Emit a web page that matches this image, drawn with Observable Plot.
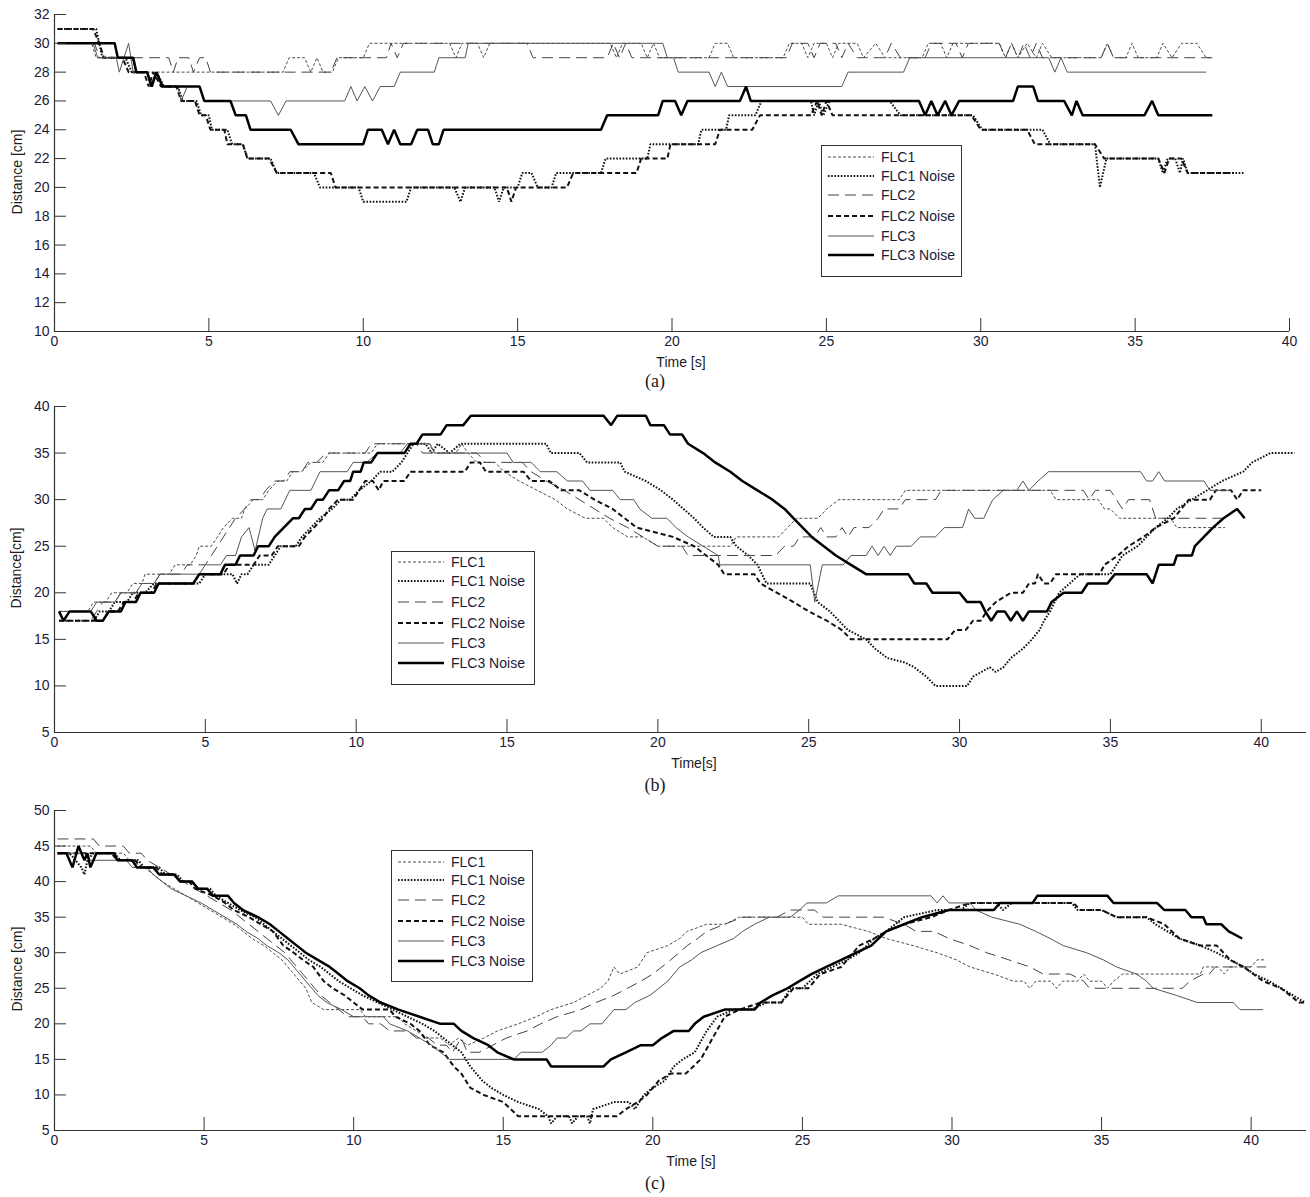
<!DOCTYPE html>
<html><head><meta charset="utf-8">
<script src="https://cdn.jsdelivr.net/npm/d3@7"></script>
<script src="https://cdn.jsdelivr.net/npm/@observablehq/plot@0.6"></script>
<style>
body{margin:0;background:#fff}
#fig{position:relative;width:1310px;height:1197px;font-family:Arial,"Liberation Sans",sans-serif;color:#1a1a1a;overflow:hidden}
#fig svg.plot{position:absolute;left:0}
.lab{position:absolute;font-size:14px;white-space:nowrap;transform:translate(-50%,-50%)}
.ylab{position:absolute;font-size:14px;white-space:nowrap;transform:translate(-50%,-50%) rotate(-90deg)}
.cap{position:absolute;font-family:"Liberation Serif","Times New Roman",serif;font-size:18px;transform:translate(-50%,-50%)}
.legend{position:absolute}
</style></head>
<body><div id="fig"></div>
<script>
// ---------- tick labels ----------
const xTicks = [0,5,10,15,20,25,30,35,40];
const yTicksA = [10,12,14,16,18,20,22,24,26,28,30,32];
const yTicksB = [5,10,15,20,25,30,35,40];
const yTicksC = [5,10,15,20,25,30,35,40,45,50];
const seriesNames = ["FLC1","FLC1 Noise","FLC2","FLC2 Noise","FLC3","FLC3 Noise"];

// ---------- panel (a): [time s, distance cm] ----------
const a_FLC1 = [[0.1,30],[1.2,30],[1.35,29],[2.5,29],[2.65,28],[7.4,28],[7.6,29],[8.1,29],[8.3,28],[8.5,29],[8.7,28],[9.0,28],[9.2,29],[10.0,29],[10.2,30],[12.8,30],[13.0,29],[13.2,30],[13.7,30],[13.9,29],[14.1,30],[18.0,30],[18.2,29],[18.4,30],[19.0,30],[19.2,29],[19.4,30],[19.6,29],[21.2,29],[21.4,30],[21.8,30],[22.0,29],[23.6,29],[23.8,30],[24.2,30],[24.4,29],[24.6,30],[25.0,30],[25.2,29],[25.4,30],[26.0,30],[26.2,29],[26.6,30],[26.9,29],[28.1,29],[28.3,30],[28.7,30],[28.9,29],[29.1,30],[30.6,30],[30.8,29],[31.0,30],[31.2,29],[31.5,30],[31.8,29],[32.0,30],[32.3,29],[33.9,29],[34.1,30],[34.3,29],[34.7,29],[34.9,30],[35.1,29],[35.7,29],[35.9,30],[36.2,29],[36.5,30],[37.0,30],[37.3,29],[37.5,29]];
const a_FLC1N = [[0.1,31],[1.35,31],[1.55,29],[2.3,29],[2.5,28],[3.0,28],[3.15,27],[3.3,28],[3.55,27],[4.0,27],[4.15,26],[4.6,26],[4.75,25],[5.0,25],[5.1,24],[5.6,24],[5.75,23],[6.1,23],[6.25,22],[7.0,22],[7.2,21],[8.4,21],[8.6,20],[9.85,20],[10.0,19],[11.4,19],[11.55,20],[12.95,20],[13.15,19],[13.3,20],[14.25,20],[14.4,19],[14.55,20],[15.0,20],[15.15,21],[15.45,21],[15.65,20],[16.1,20],[16.25,21],[17.7,21],[17.85,22],[19.2,22],[19.3,23],[20.85,23],[20.95,24],[21.75,24],[21.85,25],[22.7,25],[22.9,26],[24.5,26],[24.6,25],[24.75,26],[24.9,25],[25.1,26],[27.05,26],[27.4,25],[29.75,25],[30.05,24],[32.0,24],[32.25,23],[33.7,23],[33.86,20],[34.07,22],[35.75,22],[35.9,21],[36.05,22],[36.3,22],[36.45,21],[36.55,22],[36.7,21],[38.55,21]];
const a_FLC2 = [[0.1,30],[1.3,30],[1.45,29],[3.7,29],[3.85,28],[4.0,29],[4.35,29],[4.5,28],[4.7,29],[4.9,29],[5.05,28],[8.95,28],[9.15,29],[10.75,29],[10.9,30],[11.1,29],[11.3,30],[15.3,30],[15.5,29],[17.9,29],[18.1,30],[18.3,29],[18.5,30],[18.7,29],[23.7,29],[23.9,30],[24.4,30],[24.6,29],[24.8,30],[25.3,30],[25.5,29],[25.7,30],[26.0,29],[26.9,29],[27.1,30],[27.4,29],[28.2,29],[28.4,30],[29.2,30],[29.4,29],[29.6,30],[30.6,30],[30.8,29],[31.0,30],[31.2,29],[31.4,30],[31.6,29],[31.8,30],[32.0,29],[33.9,29],[34.1,30],[34.3,29],[37.6,29]];
const a_FLC2N = [[0.1,31],[1.25,31],[1.45,30],[1.6,29],[2.2,29],[2.4,28],[2.9,28],[3.05,27],[3.2,28],[3.45,27],[3.95,27],[4.1,26],[4.55,26],[4.7,25],[4.9,25],[5.05,24],[5.5,24],[5.6,23],[6.1,23],[6.25,22],[6.95,22],[7.2,21],[8.95,21],[9.1,20],[14.65,20],[14.8,19],[14.95,20],[16.6,20],[16.8,21],[18.85,21],[19.0,22],[19.85,22],[19.95,23],[21.4,23],[21.55,24],[22.6,24],[22.85,25],[24.5,25],[24.7,26],[24.85,25],[25.0,26],[25.2,25],[29.7,25],[30.0,24],[31.5,24],[31.75,23],[33.7,23],[34.0,22],[35.75,22],[35.95,21],[36.1,22],[36.5,22],[36.7,21],[38.2,21]];
const a_FLC3 = [[0.1,30],[1.25,30],[1.4,29],[2.0,29],[2.1,28],[2.25,29],[2.4,30],[2.55,28],[3.0,28],[3.1,27],[3.3,28],[3.5,27],[4.0,27],[4.1,26],[4.3,27],[4.7,27],[4.85,26],[7.0,26],[7.25,25],[7.5,26],[9.4,26],[9.6,27],[9.8,26],[10.05,27],[10.3,26],[10.55,27],[11.0,27],[11.2,28],[12.3,28],[12.45,29],[13.3,29],[13.4,30],[19.7,30],[19.85,29],[20.05,29],[20.2,28],[21.2,28],[21.4,27],[21.6,28],[21.8,27],[25.5,27],[25.7,28],[27.5,28],[27.7,29],[32.2,29],[32.4,28],[32.6,29],[32.8,28],[37.3,28]];
const a_FLC3N = [[0.1,30],[1.95,30],[2.05,29],[2.55,29],[2.65,28],[3.0,28],[3.15,27],[3.3,28],[3.5,27],[4.7,27],[4.85,26],[5.7,26],[5.87,25],[6.2,25],[6.35,24],[7.65,24],[7.9,23],[10.0,23],[10.15,24],[10.6,24],[10.8,23],[11.0,24],[11.2,23],[11.55,23],[11.75,24],[12.1,24],[12.25,23],[12.45,23],[12.6,24],[17.7,24],[17.9,25],[19.55,25],[19.7,26],[20.1,26],[20.3,25],[20.5,26],[22.2,26],[22.4,27],[22.55,26],[28.0,26],[28.2,25],[28.4,26],[28.6,25],[28.85,26],[29.05,25],[29.3,26],[31.05,26],[31.2,27],[31.7,27],[31.85,26],[32.7,26],[32.95,25],[33.1,26],[33.3,25],[35.3,25],[35.55,26],[35.75,25],[37.5,25]];

// ---------- panel (b) ----------
const b_FLC1 = [[0.15,18],[1.1,18],[1.3,19],[1.7,19],[1.9,20],[2.4,20],[2.6,21],[2.9,21],[3.0,22],[3.8,22],[4.0,23],[4.5,23],[4.7,24],[4.8,25],[5.2,25],[5.4,26],[5.6,27],[5.9,28],[6.2,28],[6.3,29],[6.6,30],[6.9,30],[7.1,31],[7.4,32],[7.7,32],[7.9,33],[8.2,33],[8.5,34],[8.9,34],[9.1,35],[10.5,35],[10.7,36],[12.4,36],[12.6,35],[13.3,35],[13.5,36],[13.7,35],[14.0,34],[14.6,34],[14.9,33],[15.4,32],[16.0,31],[16.6,30],[17.0,29],[17.6,28],[18.2,28],[18.5,27],[19.0,26],[19.5,26],[20.0,25],[22.4,25],[22.6,26],[24.0,26],[24.3,27],[24.6,28],[25.3,28],[25.6,29],[26.0,30],[28.0,30],[28.2,31],[33.0,31],[33.2,30],[34.6,30],[34.8,29],[35.0,29],[35.3,28],[37.0,28],[37.2,27],[38.8,27]];
const b_FLC1N = [[0.15,17],[1.3,17],[1.5,18],[1.8,18],[2.0,19],[2.4,19],[2.6,20],[3.0,20],[3.3,21],[4.8,21],[5.0,22],[5.9,22],[6.05,21],[6.2,22],[6.4,22],[6.6,23],[7.1,23],[7.3,24],[7.5,25],[8.0,25],[8.2,26],[8.5,27],[8.8,28],[9.2,29],[9.5,30],[9.8,30],[10.1,31],[10.5,32],[10.8,33],[11.2,33],[11.5,34],[11.7,35],[11.9,36],[12.3,36],[12.5,35],[12.7,36],[13.1,35],[13.45,36],[16.3,36],[16.45,35],[17.4,35],[17.65,34],[18.75,34],[18.9,33],[19.6,32],[20.1,31],[20.5,30],[20.85,29],[21.2,28],[21.5,27],[21.85,26],[22.4,26],[22.6,25],[23.0,24],[23.3,23],[23.6,21],[25.05,21],[25.3,19],[25.7,18],[26.0,17],[26.3,16],[26.9,15],[27.2,14],[27.6,13],[28.2,12.5],[28.5,12],[28.9,11],[29.2,10],[30.25,10],[30.45,11],[31.0,12],[31.2,11.5],[31.45,12],[31.7,13],[32.1,14],[32.4,15],[32.65,16],[32.8,17],[33.0,18],[33.15,19],[33.3,20],[33.65,21],[34.0,22],[35.0,22],[35.2,23],[35.4,24],[35.9,25],[36.2,26],[36.5,27],[36.9,28],[37.2,29],[37.7,30],[38.2,31],[38.7,32],[39.4,33],[39.7,34],[40.3,35],[41.1,35]];
const b_FLC2 = [[0.15,17],[1.2,17],[1.4,18],[1.6,19],[2.0,19],[2.2,20],[2.7,20],[2.9,21],[3.3,21],[3.5,22],[4.2,22],[4.4,23],[5.0,23],[5.2,24],[5.4,25],[5.6,26],[5.8,27],[6.0,28],[6.3,29],[6.5,30],[6.8,30],[7.0,31],[7.3,32],[7.6,32],[7.8,33],[8.2,33],[8.4,34],[8.7,34],[9.0,35],[10.3,35],[10.5,36],[12.0,36],[12.2,35],[14.0,35],[14.3,34],[15.5,34],[15.8,33],[16.3,32],[16.9,31],[17.4,30],[17.9,29],[18.4,28],[19.0,27],[19.5,26],[20.0,25],[20.8,25],[21.0,24],[23.9,24],[24.2,25],[24.5,25],[24.7,26],[25.2,26],[25.4,27],[25.6,26],[25.9,26],[26.1,27],[26.3,26],[26.5,27],[27.0,27],[27.3,28],[27.5,29],[28.0,29],[28.2,30],[29.2,30],[29.4,31],[34.1,31],[34.3,30],[34.5,31],[35.0,31],[35.2,30],[35.4,29],[35.6,30],[36.3,30],[36.5,28],[38.8,28]];
const b_FLC2N = [[0.15,17],[1.6,17],[1.8,18],[2.1,18],[2.3,19],[2.6,19],[2.8,20],[3.2,20],[3.4,21],[4.6,21],[4.8,22],[5.6,22],[5.8,23],[6.6,23],[6.8,24],[7.2,24],[7.4,25],[8.1,25],[8.3,26],[8.6,27],[8.9,28],[9.1,29],[9.4,30],[9.9,30],[10.1,31],[10.3,32],[10.55,32],[10.75,31],[10.9,32],[11.6,32],[11.8,33],[13.6,33],[13.8,34],[14.1,34],[14.3,33],[15.55,33],[15.8,32],[16.4,32],[16.8,31],[17.4,31],[17.9,30],[18.5,29],[18.9,28],[19.3,27],[20.5,26],[21.2,25],[21.6,24],[22.0,23],[22.2,22],[23.2,22],[23.4,21],[23.95,20],[24.5,19],[25.0,18],[25.6,17],[26.1,16],[26.4,15],[29.6,15],[29.85,16],[30.2,16],[30.45,17],[30.7,17],[30.9,18],[31.2,19],[31.7,20],[32.1,20],[32.3,21],[32.5,21],[32.6,22],[32.8,21],[33.0,21],[33.2,22],[34.65,22],[34.8,23],[35.25,24],[35.6,25],[36.1,26],[36.5,27],[37.1,28],[37.35,29],[37.6,30],[38.3,30],[38.5,31],[39.0,31],[39.2,30],[39.4,31],[40.0,31]];
const b_FLC3 = [[0.15,18],[1.2,18],[1.4,19],[2.0,19],[2.2,20],[2.7,20],[2.9,21],[3.3,21],[3.5,22],[4.8,22],[5.0,23],[5.5,23],[5.7,24],[6.0,24],[6.2,26],[6.45,27],[6.65,24.5],[6.9,28],[7.05,29],[7.5,29],[7.8,31],[8.5,31],[8.8,33],[9.7,33],[9.9,34],[10.35,34],[10.7,35],[11.45,35],[11.7,36],[12.45,36],[12.6,35],[15.0,35],[15.2,34],[15.8,34],[16.1,33],[16.65,33],[17.0,32],[17.5,32],[17.75,31],[18.5,31],[18.75,30],[19.2,30],[19.4,29],[19.8,28],[20.3,28],[20.6,27],[21.0,26],[21.5,25],[22.0,24],[22.05,23],[25.05,23],[25.2,19],[25.45,23],[26.15,23],[26.4,24],[26.9,24],[27.1,25],[27.3,24],[27.5,25],[27.7,24],[27.9,25],[28.4,25],[28.7,26],[29.2,26],[29.5,27],[30.1,27],[30.3,29],[30.5,28],[30.8,28],[31.1,30],[31.45,31],[31.9,31],[32.1,32],[32.3,31],[32.6,32],[32.95,33],[36.0,33],[36.2,32],[36.4,32],[36.6,33],[36.8,32],[38.1,32],[38.3,31],[39.0,31]];
const b_FLC3N = [[0.15,18],[0.3,17],[0.5,18],[1.2,18],[1.4,17],[1.6,17],[1.8,18],[2.2,18],[2.35,19],[2.7,19],[2.85,20],[3.3,20],[3.45,21],[4.6,21],[4.8,22],[5.5,22],[5.65,23],[6.0,23],[6.15,24],[6.6,24],[6.75,25],[7.1,25],[7.3,26],[7.6,27],[7.9,28],[8.1,28],[8.3,29],[8.5,29],[8.7,30],[8.9,30],[9.1,31],[9.4,31],[9.6,32],[9.8,32],[9.9,33],[10.15,33],[10.25,34],[10.5,34],[10.7,35],[11.6,35],[11.8,36],[12.0,36],[12.2,37],[12.8,37],[13.0,38],[13.55,38],[13.8,39],[18.2,39],[18.45,38],[18.65,39],[19.6,39],[19.75,38],[20.2,38],[20.4,37],[20.8,37],[21.0,36],[21.5,35],[21.9,34],[22.4,33],[22.8,32],[23.3,31],[23.8,30],[24.2,29],[24.5,28],[24.8,27],[25.1,26],[25.5,25],[25.9,24],[26.4,23],[26.9,22],[28.3,22],[28.5,21],[28.9,21],[29.1,20],[30.0,20],[30.25,19],[30.7,19],[30.85,18],[31.05,17],[31.25,18],[31.5,18],[31.7,17],[31.9,18],[32.1,17],[32.3,18],[32.9,18],[33.05,19],[33.45,20],[34.05,20],[34.25,21],[34.9,21],[35.15,22],[36.2,22],[36.4,21],[36.6,23],[37.1,23],[37.2,24],[37.7,24],[37.8,25],[38.1,26],[38.4,27],[38.75,28],[39.2,29],[39.45,28]];

// ---------- panel (c) ----------
const c_FLC1 = [[0.1,45],[1.2,45],[1.4,44],[2.3,44],[2.5,43],[3.0,42],[3.3,41],[3.6,40],[4.0,39],[4.4,38],[4.8,37],[5.2,36],[5.6,35],[6.0,34],[6.3,33],[6.6,32],[7.0,31],[7.3,30],[7.6,29],[7.8,28],[8.0,27],[8.2,26],[8.4,25],[8.5,24],[8.6,23],[9.0,22],[10.2,22],[10.4,21],[11.5,21],[11.7,20],[12.1,19],[12.5,18],[12.9,18],[13.2,17],[13.5,18],[13.8,17],[14.35,18],[14.8,19],[15.5,20],[16.1,21],[16.6,22],[17.35,23],[17.8,24],[18.25,25],[18.5,26],[18.7,28],[18.9,27],[19.5,28],[19.8,30],[20.5,31],[20.9,32],[21.15,33],[21.8,34],[22.4,34],[22.9,35],[25.0,35],[25.2,34],[26.3,34],[27.2,33],[27.8,32],[28.7,31],[29.5,30],[30.15,29],[30.6,28],[31.4,27],[32.05,26],[32.4,26],[32.6,25],[32.8,26],[33.3,26],[33.5,25],[33.7,26],[34.2,26],[34.4,27],[34.6,26],[35.0,26],[35.2,25],[35.4,26],[35.7,27],[38.3,27],[38.4,28],[38.9,28],[39.1,27],[39.3,28],[40.0,28],[40.2,29],[40.5,29]];
const c_FLC1N = [[0.1,44],[0.5,44],[0.7,43],[0.9,42],[1.0,41],[1.1,43],[1.3,44],[2.0,44],[2.2,43],[2.8,43],[3.0,42],[3.5,42],[3.7,41],[4.1,41],[4.3,40],[4.6,40],[4.8,39],[5.2,39],[5.4,38],[5.8,37],[6.2,36],[6.7,35],[7.0,34],[7.3,33],[7.6,32],[7.9,31],[8.2,30],[8.5,29],[8.9,28],[9.2,27],[9.5,26],[9.9,25],[10.3,24],[10.8,23],[11.3,22],[11.8,21],[12.3,20],[12.7,19],[13.0,18],[13.3,17],[13.6,16],[13.9,14],[14.3,12],[14.6,11],[15.0,10],[15.5,9],[16.2,8],[16.5,7],[16.6,6],[16.8,7],[17.2,7],[17.3,6],[17.5,7],[17.8,7],[17.9,6],[18.0,8],[18.7,9],[19.2,9],[19.4,8],[19.7,10],[20.0,11],[20.4,12],[20.7,14],[21.0,15],[21.4,16],[21.8,19],[22.15,21],[22.7,22],[23.3,22],[23.8,23],[24.3,23],[24.6,25],[25.0,25],[25.5,27],[26.0,28],[26.5,29],[26.9,30],[27.4,32],[27.8,33],[28.4,35],[29.5,36],[30.3,36],[30.6,37],[31.5,37],[31.7,36],[32.0,37],[34.0,37],[34.2,36],[35.0,36],[35.5,35],[36.5,35],[36.8,34],[37.6,32],[38.3,31],[38.85,30],[39.3,29],[39.75,28],[40.1,27],[40.6,26],[41.0,25],[41.4,24],[41.8,23]];
const c_FLC2 = [[0.1,46],[1.3,46],[1.5,45],[2.3,45],[2.5,44],[2.9,44],[3.1,43],[3.5,42],[3.9,41],[4.3,40],[4.7,39],[5.1,38],[5.5,37],[5.9,36],[6.2,35],[6.5,34],[6.8,33],[7.1,32],[7.4,31],[7.7,30],[7.9,29],[8.1,28],[8.3,27],[8.5,26],[8.7,25],[8.9,24],[9.2,23],[9.5,22],[9.8,21],[10.3,21],[10.5,20],[10.9,20],[11.2,19],[11.8,19],[12.1,18],[12.5,18],[12.8,17],[13.1,17],[13.3,16],[13.6,18],[13.8,16],[14.2,16],[15.1,18],[15.8,19],[16.25,20],[16.8,21],[17.6,22],[18.1,23],[18.7,24],[19.15,25],[19.6,26],[20.0,27],[20.6,29],[21.15,31],[21.5,32],[21.8,33],[22.4,34],[23.0,35],[24.15,35],[24.6,36],[25.4,36],[25.7,35],[27.7,35],[28.4,34],[28.8,33],[29.4,33],[29.9,32],[30.6,31],[31.16,30],[31.9,29],[32.6,28],[33.05,27],[33.95,27],[34.4,26],[34.6,25],[37.7,25],[37.95,26],[38.4,27],[38.6,27],[38.8,28],[40.5,28]];
const c_FLC2N = [[0.1,44],[1.9,44],[2.1,43],[2.7,43],[2.9,42],[3.4,42],[3.6,41],[4.0,41],[4.2,40],[4.5,40],[4.7,39],[5.3,38],[5.7,37],[6.0,36],[6.5,35],[6.9,34],[7.3,33],[7.65,31],[8.0,30],[8.3,29],[8.65,28],[9.0,26],[9.3,25],[9.7,24],[10.0,23],[10.3,22],[11.2,22],[11.4,21],[11.9,20],[12.2,19],[12.55,17],[13.0,16],[13.35,14],[13.6,13],[13.9,11],[14.35,10],[15.0,9],[15.5,7],[18.8,7],[19.1,8],[19.5,9],[19.8,10],[20.2,12],[20.6,13],[21.1,13],[21.6,15],[22.0,18],[22.4,21],[22.9,22],[23.6,23],[24.3,23],[24.7,25],[25.2,25],[25.6,27],[26.3,28],[26.9,31],[27.4,32],[27.8,33],[28.4,34],[29.3,35],[29.9,36],[30.6,37],[34.05,37],[34.3,36],[35.0,36],[35.5,35],[36.5,35],[37.1,34],[37.6,32],[38.3,31],[38.85,31],[39.3,29],[39.75,28],[40.4,26],[41.0,25],[41.6,23],[41.8,23]];
const c_FLC3 = [[0.1,44],[1.0,44],[1.2,43],[2.4,43],[2.6,42],[3.1,42],[3.3,41],[3.6,40],[3.9,39],[4.4,38],[4.9,37],[5.3,36],[5.7,35],[6.1,34],[6.4,33],[6.8,32],[7.1,31],[7.5,30],[7.8,29],[8.0,28],[8.2,27],[8.4,26],[8.6,25],[8.8,24],[9.1,23],[9.6,22],[10.0,21],[11.0,21],[11.2,20],[11.8,19],[12.2,18],[12.6,17],[12.9,16],[13.2,15],[15.35,15],[15.6,16],[16.3,16],[16.6,17],[16.8,18],[17.1,18],[17.35,19],[17.6,19],[17.9,20],[18.3,20],[18.5,21],[18.7,22],[19.1,22],[19.4,23],[19.9,24],[20.2,25],[20.5,26],[20.7,27],[20.9,28],[21.3,29],[21.6,30],[22.15,31],[22.7,32],[23.0,33],[23.4,34],[23.9,35],[24.6,35],[24.9,36],[25.15,37],[25.8,37],[26.2,38],[29.3,38],[29.5,37],[29.7,38],[29.9,37],[30.6,37],[30.8,36],[31.33,35],[32.27,34],[32.8,33],[33.28,32],[33.72,31],[34.5,30],[35.06,29],[35.5,28],[36.17,27],[36.5,26],[36.73,25],[37.5,24],[38.2,23],[39.4,23],[39.63,22],[40.4,22]];
const c_FLC3N = [[0.1,44],[0.4,44],[0.6,42],[0.8,45],[1.0,43],[1.1,44],[1.2,42],[1.4,44],[2.0,44],[2.1,43],[2.6,43],[2.75,42],[3.3,42],[3.5,41],[4.0,41],[4.2,40],[4.6,40],[4.8,39],[5.1,39],[5.3,38],[5.8,38],[6.0,37],[6.3,36],[6.8,35],[7.2,34],[7.5,33],[7.8,32],[8.1,31],[8.4,30],[8.8,29],[9.2,28],[9.5,27],[9.8,26],[10.2,25],[10.5,24],[10.9,23],[11.5,22],[12.2,21],[12.9,20],[13.35,20],[13.6,19],[14.0,18],[14.5,17],[14.8,16],[15.35,15],[16.45,15],[16.6,14],[18.35,14],[18.6,15],[19.1,16],[19.6,17],[20.0,17],[20.3,18],[20.7,19],[21.2,19],[21.4,20],[21.7,21],[22.4,22],[23.4,22],[23.6,23],[24.0,24],[24.5,25],[24.9,26],[25.3,27],[25.8,28],[26.3,29],[26.8,30],[27.3,31],[27.8,33],[28.4,34],[29.0,35],[29.9,36],[31.4,36],[31.6,37],[32.7,37],[32.85,38],[35.2,38],[35.4,37],[36.85,37],[37.1,36],[37.8,36],[38.0,35],[38.4,35],[38.5,34],[39.0,34],[39.25,33],[39.7,32]];

// ---------- styles ----------
const lineStyle = {
  "FLC1":       {stroke:"#4d4d4d", strokeWidth:1,   dash:"3,2"},
  "FLC1 Noise": {stroke:"#111",    strokeWidth:2,   dash:"1.6,1.6"},
  "FLC2":       {stroke:"#444",    strokeWidth:1,   dash:"11,6"},
  "FLC2 Noise": {stroke:"#111",    strokeWidth:2,   dash:"5,3"},
  "FLC3":       {stroke:"#555",    strokeWidth:1,   dash:null},
  "FLC3 Noise": {stroke:"#000",    strokeWidth:2.5, dash:null}
};

const panels = [
  {series:[a_FLC1,a_FLC1N,a_FLC2,a_FLC2N,a_FLC3,a_FLC3N], yTicks:yTicksA, xMax:40, top:0, innerH:317, marginRight:21,
   xLabel:"Time [s]", xLab:[681,362], yLabel:"Distance [cm]", yLab:[17,172], cap:"(a)", capPos:[655,381],
   legend:{left:821, top:145, w:140, h:131, rows:[12,31,50,71,91,110]}},
  {series:[b_FLC1,b_FLC1N,b_FLC2,b_FLC2N,b_FLC3,b_FLC3N], yTicks:yTicksB, xMax:41.5, top:392, innerH:326, marginRight:4,
   xLabel:"Time[s]", xLab:[694,763], yLabel:"Distance[cm]", yLab:[16,568], cap:"(b)", capPos:[655,785],
   legend:{left:391, top:551, w:143, h:133, rows:[11,30,51,72,92,112]}},
  {series:[c_FLC1,c_FLC1N,c_FLC2,c_FLC2N,c_FLC3,c_FLC3N], yTicks:yTicksC, xMax:41.85, top:796, innerH:320, marginRight:4,
   xLabel:"Time [s]", xLab:[691,1161], yLabel:"Distance [cm]", yLab:[17,969], cap:"(c)", capPos:[655,1183],
   legend:{left:391, top:850, w:141, h:131, rows:[12,30,50,71,91,111]}}
];

const fig = document.getElementById("fig");
const mt = 14, mb = 44;

for (const p of panels) {
  const yMin = p.yTicks[0], yMax = p.yTicks[p.yTicks.length - 1];
  const marks = p.series.map((pts, i) => {
    const s = lineStyle[seriesNames[i]];
    return Plot.line(pts, {x: d => d[0], y: d => d[1], stroke: s.stroke, strokeWidth: s.strokeWidth,
      strokeDasharray: s.dash || undefined, strokeLinejoin: "miter", strokeLinecap: "butt"});
  });
  const chart = Plot.plot({
    width: 1310, height: mt + p.innerH + mb,
    marginLeft: 54, marginRight: p.marginRight, marginTop: mt, marginBottom: mb,
    style: {fontFamily: "Arial, 'Liberation Sans', sans-serif", fontSize: "14px", color: "#1a1a1a", background: "transparent", overflow: "visible"},
    x: {domain: [0, p.xMax], label: null},
    y: {domain: [yMin, yMax], label: null},
    marks: [
      ...marks,
      Plot.ruleY([yMin], {stroke: "#333", strokeWidth: 1.2}),
      Plot.ruleX([0], {stroke: "#333", strokeWidth: 1.2}),
      Plot.axisX(xTicks, {tickSize: -13, tickPadding: 18, stroke: "#333", fontSize: 14, fill: "#1a1a3a"}),
      Plot.axisY(p.yTicks, {tickSize: -12, tickPadding: 17, stroke: "#333", fontSize: 14, fill: "#1a1a3a"})
    ]
  });
  chart.classList.add("plot");
  chart.style.top = p.top + "px";
  fig.appendChild(chart);

  const xl = document.createElement("div"); xl.className = "lab"; xl.textContent = p.xLabel;
  xl.style.left = p.xLab[0] + "px"; xl.style.top = p.xLab[1] + "px"; fig.appendChild(xl);
  const yl = document.createElement("div"); yl.className = "ylab"; yl.textContent = p.yLabel;
  yl.style.left = p.yLab[0] + "px"; yl.style.top = p.yLab[1] + "px"; fig.appendChild(yl);
  const cp = document.createElement("div"); cp.className = "cap"; cp.textContent = p.cap;
  cp.style.left = p.capPos[0] + "px"; cp.style.top = p.capPos[1] + "px"; fig.appendChild(cp);

  // legend
  const L = p.legend;
  const svg = d3.select(fig).append("svg").attr("class", "legend")
    .style("left", L.left + "px").style("top", L.top + "px")
    .attr("width", L.w + 1).attr("height", L.h + 1);
  svg.append("rect").attr("x", 0.5).attr("y", 0.5).attr("width", L.w).attr("height", L.h)
    .attr("fill", "#fff").attr("stroke", "#333").attr("stroke-width", 1);
  seriesNames.forEach((name, i) => {
    const s = lineStyle[name];
    svg.append("line").attr("x1", 7).attr("x2", 53).attr("y1", L.rows[i]).attr("y2", L.rows[i])
      .attr("stroke", s.stroke).attr("stroke-width", s.strokeWidth).attr("stroke-dasharray", s.dash);
    svg.append("text").attr("x", 60).attr("y", L.rows[i]).attr("dy", "0.35em")
      .attr("font-family", "Arial, 'Liberation Sans', sans-serif").attr("font-size", 14)
      .attr("fill", "#1a1a3a").text(name);
  });
}
</script>
</body></html>
